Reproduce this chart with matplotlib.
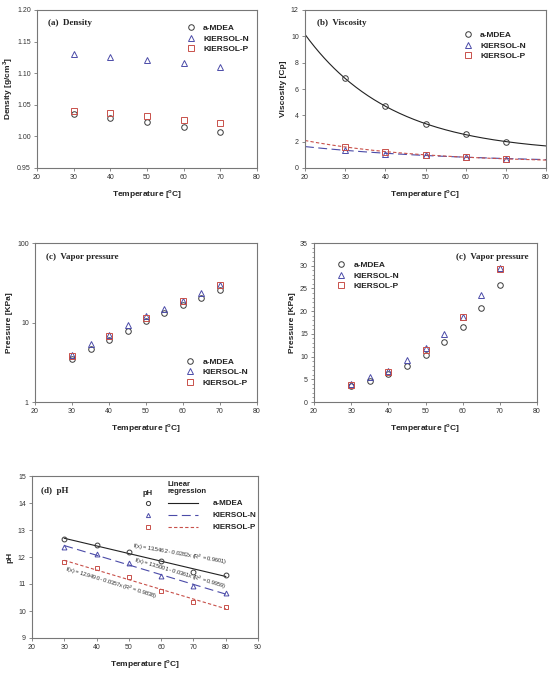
import numpy as np
import matplotlib
matplotlib.use("Agg")
import matplotlib.pyplot as plt
from matplotlib.ticker import MultipleLocator, FixedLocator, NullFormatter, LogLocator

# ---------------- data ----------------
dens_T = [30, 40, 50, 60, 70]
dens_mdea = [1.035, 1.029, 1.022, 1.015, 1.007]
dens_n = [1.131, 1.126, 1.121, 1.116, 1.110]
dens_p = [1.040, 1.037, 1.032, 1.026, 1.021]

visc_T = [30, 40, 50, 60, 70]
visc_mdea = [6.8, 4.7, 3.35, 2.55, 2.0]
visc_n = [1.35, 1.10, 0.95, 0.85, 0.70]
visc_p = [1.60, 1.25, 0.98, 0.85, 0.68]

vp_T_mdea = [30, 35, 40, 45, 50, 55, 60, 65, 70]
vp_mdea = [3.5, 4.6, 6.1, 7.9, 10.4, 13.3, 16.5, 20.6, 25.7]
vp_T_n = [30, 35, 40, 45, 50, 55, 60, 65, 70]
vp_n = [3.9, 5.4, 6.9, 9.2, 11.9, 15.0, 18.8, 23.6, 29.6]
vp_T_p = [30, 40, 50, 60, 70]
vp_p = [3.8, 6.7, 11.5, 18.7, 29.3]

ph_T = [30, 40, 50, 60, 70, 80]
ph_mdea = [12.67, 12.43, 12.18, 11.85, 11.44, 11.35]
ph_n = [12.38, 12.10, 11.78, 11.30, 10.93, 10.66]
ph_p = [11.80, 11.58, 11.27, 10.75, 10.34, 10.14]
ph_eqs = ["f(x) = 13.5462 - 0.0282x (R$^2$ = 0.9601)",
          "f(x) = 13.5001 - 0.0361x (R$^2$ = 0.9959)",
          "f(x) = 12.9490 - 0.0357x (R$^2$ = 0.9838)"]

labels = ["a-MDEA", "KIERSOL-N", "KIERSOL-P"]

# ---------------- styles ----------------
C_K = "#3a3a3a"
C_N = "#4b4ba8"
C_P = "#c8504a"
SANS = ["Liberation Sans", "DejaVu Sans"]
SERIF = ["Liberation Serif", "DejaVu Serif"]
plt.rcParams["font.family"] = SANS
plt.rcParams["axes.edgecolor"] = "#777777"
plt.rcParams["axes.linewidth"] = 0.8
plt.rcParams["xtick.color"] = "#777777"
plt.rcParams["ytick.color"] = "#777777"
plt.rcParams["xtick.labelcolor"] = "#333333"
plt.rcParams["ytick.labelcolor"] = "#333333"

mk = dict(linestyle="none", markerfacecolor="none", markersize=4, markeredgewidth=0.7)
sty = [dict(marker="o", markeredgecolor=C_K),
       dict(marker="^", markeredgecolor=C_N),
       dict(marker="s", markeredgecolor=C_P)]

W, H = 553, 674
fig = plt.figure(figsize=(W / 100, H / 100), dpi=100)


def make_ax(l, r, t, b):
    return fig.add_axes([l / W, 1 - b / H, (r - l) / W, (b - t) / H])


def style_ax(ax, ylabel, xlabel="Temperature [$^{\\mathregular{o}}$C]", ylpad=3):
    ax.tick_params(labelsize=5, length=2.5, width=0.6, direction="out", pad=2)
    ax.tick_params(which="minor", length=1.5, width=0.5, direction="out")
    ax.set_xlabel(xlabel, fontsize=6, fontweight="bold", labelpad=5, color="#222222")
    ax.set_ylabel(ylabel, fontsize=6, fontweight="bold", labelpad=ylpad, color="#222222")


def legend(ax, **kw):
    leg = ax.legend(frameon=False, fontsize=6, handlelength=1.0, handletextpad=1.0,
                    labelspacing=0.3, borderpad=0, **kw)
    for t in leg.get_texts():
        t.set_fontweight("bold")
        t.set_color("#222222")
    return leg


def title(ax, s, x, y, ha="left"):
    ax.text(x, y, s, transform=ax.transAxes, fontsize=6.5, fontweight="bold",
            family=SERIF, ha=ha, va="top", color="#222222")


# ---------------- (a) density ----------------
ax = make_ax(37, 257, 10, 168)
for ys, st, lb in zip([dens_mdea, dens_n, dens_p], sty, labels):
    ax.plot(dens_T, ys, label=lb, **mk, **st)
ax.set_xlim(20, 80)
ax.set_ylim(0.95, 1.20)
ax.xaxis.set_major_locator(MultipleLocator(10))
ax.yaxis.set_major_locator(MultipleLocator(0.05))
ax.yaxis.set_major_formatter(matplotlib.ticker.FormatStrFormatter("%.2f"))
style_ax(ax, "Density [g/cm$^\\mathregular{3}$]", ylpad=1.5)
title(ax, "(a)  Density", 0.05, 0.94)
legend(ax, loc="upper left", bbox_to_anchor=(0.66, 0.935))


# ---------------- (b) viscosity ----------------
def expfit(x, y):
    x = np.asarray(x, float)
    y = np.asarray(y, float)
    best = None
    for b in np.linspace(0.002, 0.2, 2000):
        A = np.vstack([np.exp(-b * x), np.ones_like(x)]).T
        coef, res, *_ = np.linalg.lstsq(A, y, rcond=None)
        r = np.sum((A @ coef - y) ** 2)
        if best is None or r < best[0]:
            best = (r, b, coef)
    _, b, (a, c) = best
    return lambda t: a * np.exp(-b * t) + c


ax = make_ax(305, 546, 10, 168)
xx = np.linspace(20, 80, 200)
lstyles = [dict(color="#222222", lw=0.8, ls="-"),
           dict(color=C_N, lw=0.8, ls=(0, (8, 4))),
           dict(color=C_P, lw=0.8, ls=(0, (3, 2)))]
for ys, st, ls, lb in zip([visc_mdea, visc_n, visc_p], sty, lstyles, labels):
    f = expfit(visc_T, ys)
    ax.plot(xx, f(xx), **ls)
    ax.plot(visc_T, ys, label=lb, **mk, **st)
ax.set_xlim(20, 80)
ax.set_ylim(0, 12)
ax.xaxis.set_major_locator(MultipleLocator(10))
ax.yaxis.set_major_locator(MultipleLocator(2))
style_ax(ax, "Viscosity [Cp]")
title(ax, "(b)  Viscosity", 0.05, 0.94)
legend(ax, loc="upper left", bbox_to_anchor=(0.64, 0.89))

# ---------------- (c) vapor pressure, log ----------------
ax = make_ax(35, 257, 243, 402)
for xs, ys, st, lb in zip([vp_T_mdea, vp_T_n, vp_T_p], [vp_mdea, vp_n, vp_p], sty, labels):
    ax.plot(xs, ys, label=lb, **mk, **st)
ax.set_yscale("log")
ax.set_xlim(20, 80)
ax.set_ylim(1, 100)
ax.xaxis.set_major_locator(MultipleLocator(10))
ax.yaxis.set_major_locator(FixedLocator([1, 10, 100]))
ax.yaxis.set_major_formatter(matplotlib.ticker.FormatStrFormatter("%g"))
ax.yaxis.set_minor_locator(LogLocator(subs=np.arange(2, 10)))
ax.yaxis.set_minor_formatter(NullFormatter())
style_ax(ax, "Pressure [KPa]")
ax.tick_params(axis="y", which="minor", length=0)
title(ax, "(c)  Vapor pressure", 0.05, 0.94)
legend(ax, loc="lower left", bbox_to_anchor=(0.66, 0.07))

# ---------------- (c) vapor pressure, linear ----------------
ax = make_ax(314, 537, 243, 402)
for xs, ys, st, lb in zip([vp_T_mdea, vp_T_n, vp_T_p], [vp_mdea, vp_n, vp_p], sty, labels):
    ax.plot(xs, ys, label=lb, **mk, **st)
ax.set_xlim(20, 80)
ax.set_ylim(0, 35)
ax.xaxis.set_major_locator(MultipleLocator(10))
ax.yaxis.set_major_locator(MultipleLocator(5))
ax.yaxis.set_minor_locator(MultipleLocator(1))
style_ax(ax, "Pressure [KPa]")
title(ax, "(c)  Vapor pressure", 0.96, 0.94, ha="right")
legend(ax, loc="upper left", bbox_to_anchor=(0.085, 0.91))

# ---------------- (d) pH ----------------
ax = make_ax(32, 258, 476, 638)
xx = np.linspace(30, 80, 50)
rot = [-10, -16.5, -17]
txt_pos = [(65.8, 12.12), (65.8, 11.37), (44.5, 11.04)]
for ys, st, ls, eq, r, tp in zip([ph_mdea, ph_n, ph_p], sty, lstyles, ph_eqs, rot, txt_pos):
    k, b0 = np.polyfit(ph_T, ys, 1)
    ax.plot(xx, k * xx + b0, **ls)
    ax.plot(ph_T, ys, **dict(mk, markersize=3.5), **st)
    ax.text(tp[0], tp[1], eq, rotation=r, fontsize=4.0, ha="center", va="center",
            color="#222222", rotation_mode="anchor")
ax.set_xlim(20, 90)
ax.set_ylim(9, 15)
ax.xaxis.set_major_locator(MultipleLocator(10))
ax.yaxis.set_major_locator(MultipleLocator(1))
style_ax(ax, "pH")
title(ax, "(d)  pH", 0.04, 0.93)
# custom two-column legend
tr = ax.transAxes
ax.text(0.513, 0.895, "pH", transform=tr, fontsize=5.5, fontweight="bold", ha="center",
        va="center", color="#222222")
ax.text(0.60, 0.925, "Linear\nregression", transform=tr, fontsize=5.5, fontweight="bold",
        ha="left", va="center", color="#222222", linespacing=1.0)
rows = [0.833, 0.759, 0.685]
for yy, st, ls, lb in zip(rows, sty, lstyles, labels):
    ax.plot([0.513], [yy], transform=tr, **dict(mk, markersize=3), **st)
    ax.plot([0.60, 0.735], [yy, yy], transform=tr, **ls)
    ax.text(0.80, yy, lb, transform=tr, fontsize=5.8, fontweight="bold", ha="left",
            va="center", color="#222222")

fig.savefig("out.png", dpi=100)
